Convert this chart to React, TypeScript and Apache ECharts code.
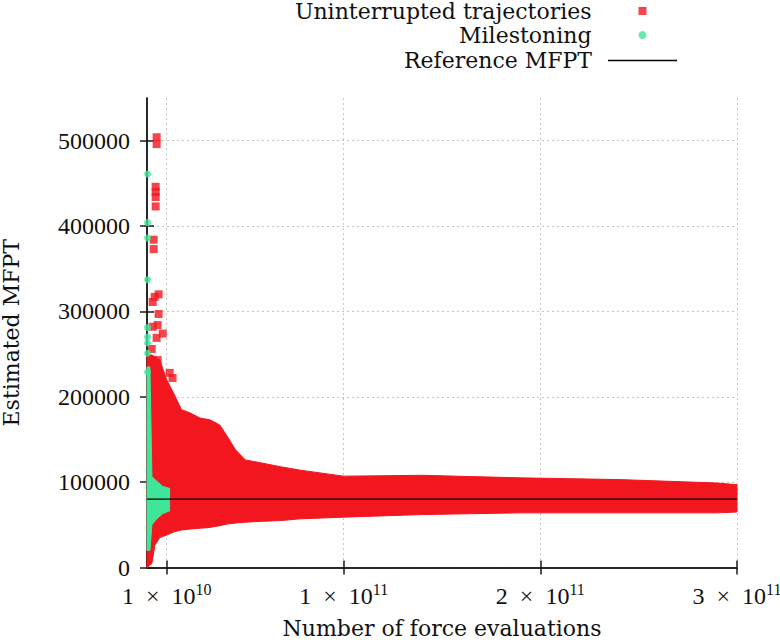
import React, { useEffect, useRef } from 'react';
import * as echarts from 'echarts';

// ---- tick labels ----
const xTickValues = [1e10, 1e11, 2e11, 3e11];
const xTickMantissa = ['1', '1', '2', '3'];
const xTickExponent = ['10', '11', '11', '11'];
const yTickValues = [0, 100000, 200000, 300000, 400000, 500000];

// ---- reference value ----
const referenceMFPT = 80000;

// ---- Uninterrupted trajectories: dense cloud envelope ----
const trajBandX = [0, 0.25e10, 0.4e10, 0.65e10, 1.0e10, 1.4e10, 1.75e10, 2.2e10, 2.7e10, 3.2e10, 3.7e10, 4.1e10, 4.5e10, 5.0e10, 5.7e10, 6.8e10, 7.8e10, 10e10, 14e10, 19e10, 24e10, 29e10, 30e10];
const trajBandUpper = [249000, 249000, 247000, 243000, 220000, 202000, 185000, 181000, 175000, 173000, 167000, 153000, 138000, 126000, 123000, 118000, 114000, 107000, 108000, 105000, 103000, 99000, 97000];
const trajBandLower = [0, 5000, 26000, 35000, 38000, 42000, 44000, 45000, 46000, 47000, 49000, 51000, 52000, 53000, 54000, 55000, 57000, 59000, 62000, 64000, 64000, 64000, 65000];

// ---- Uninterrupted trajectories: isolated estimates ----
const trajOutlierX = [4.9e9, 4.9e9, 4.4e9, 4.4e9, 4.4e9, 4.4e9, 3.4e9, 3.4e9, 3.9e9, 5.9e9, 2.9e9, 5.9e9, 2.9e9, 5.4e9, 8.0e9, 4.9e9, 2.4e9, 5.4e9, 1.15e10, 1.3e10];
const trajOutlierY = [504000, 496000, 446000, 440000, 434000, 423000, 384000, 373000, 317000, 320000, 311000, 297000, 282000, 284000, 274000, 269000, 256000, 243000, 228000, 222000];

// ---- Milestoning: dense envelope ----
const mileBandX = [0, 0.15e10, 0.25e10, 0.5e10, 0.8e10, 1.1e10, 1.15e10];
const mileBandUpper = [235000, 235000, 106000, 101000, 95000, 93000, 93000];
const mileBandLower = [20000, 20000, 50000, 57000, 63000, 66000, 66000];

// ---- Milestoning: isolated estimates ----
const mileOutlierX = [3e8, 3e8, 3e8, 3e8, 3e8, 3e8, 3e8, 3e8, 3e8];
const mileOutlierY = [461000, 404000, 386000, 337000, 281000, 270000, 263000, 251000, 229000];

const RED = '#f2171f';
const GREEN = '#3fe69a';
const AXIS = '#1a1a1a';
const NUM_FONT = 'Liberation Serif';
const TXT_FONT = 'DejaVu Serif';
const EN_SPACE = '\u2002';

function bandSeries(name: string, xs: number[], lo: number[], hi: number[], color: string, z: number) {
  return {
    type: 'custom',
    name,
    z,
    silent: true,
    data: xs.map((x, i) => [x, lo[i], hi[i]]),
    encode: { x: 0, y: [1, 2] },
    renderItem: (params: any, api: any) => {
      if (params.dataIndex !== 0) return null;
      const top = xs.map((x, i) => api.coord([x, hi[i]]));
      const bottom = xs.map((x, i) => api.coord([x, lo[i]])).reverse();
      return {
        type: 'polygon',
        shape: { points: top.concat(bottom) },
        style: { fill: color, stroke: color, lineWidth: 1 },
      };
    },
  };
}

function legendFor(name: string, icon: string, w: number, h: number, right: number, top: number, padRight: number) {
  return {
    show: true,
    data: [{ name, icon }],
    orient: 'vertical',
    align: 'right',
    right,
    top,
    padding: 0,
    itemWidth: w,
    itemHeight: h,
    selectedMode: false,
    textStyle: { fontFamily: TXT_FONT, fontSize: 22, color: '#111', padding: [0, padRight, 0, 0] },
  };
}

const gridLine = { show: true, lineStyle: { color: '#c4c4c4', type: [2, 3], width: 1 } };

export default function App() {
  const ref = useRef<HTMLDivElement>(null);
  useEffect(() => {
    const chart = echarts.init(ref.current!, null, { renderer: 'svg' });
    const option: any = {
      animation: false,
      backgroundColor: '#fff',
      grid: { left: 147, right: 43, top: 98, bottom: 72.5, containLabel: false, outerBoundsMode: 'none' },
      legend: [
        legendFor('Uninterrupted trajectories', 'rect', 8, 8, 133.5, 0, 42),
        legendFor('Milestoning', 'circle', 8, 8, 133.5, 24, 42),
        legendFor('Reference MFPT', 'rect', 69, 1.5, 103, 49.5, 11),
      ],
      xAxis: [
        {
          type: 'value',
          position: 'bottom',
          min: 0,
          max: 3e11,
          axisLine: { show: true, lineStyle: { color: AXIS, width: 1.5 } },
          axisTick: { show: true, inside: true, length: 7, customValues: xTickValues, lineStyle: { color: AXIS, width: 1.5 } },
          axisLabel: {
            show: true,
            customValues: xTickValues,
            margin: 14,
            formatter: (v: number) => {
              const i = xTickValues.findIndex((t) => Math.abs(t - v) < 1);
              if (i < 0) return '';
              return `{n|${xTickMantissa[i]}${EN_SPACE}×${EN_SPACE}10}{s|${xTickExponent[i]}}`;
            },
            rich: {
              n: { fontFamily: NUM_FONT, fontSize: 24, lineHeight: 26, verticalAlign: 'bottom', color: '#111' },
              s: { fontFamily: NUM_FONT, fontSize: 16, lineHeight: 13, verticalAlign: 'top', color: '#111' },
            },
          },
          splitLine: gridLine,
          name: 'Number of force evaluations',
          nameLocation: 'middle',
          nameGap: 50,
          nameTextStyle: { fontFamily: TXT_FONT, fontSize: 22, color: '#111' },
        },
        {
          type: 'value',
          position: 'top',
          min: 0,
          max: 3e11,
          axisLine: { show: true, lineStyle: { color: AXIS, width: 1.5 } },
          axisTick: { show: true, inside: true, length: 7, customValues: xTickValues, lineStyle: { color: AXIS, width: 1.5 } },
          axisLabel: { show: false },
          splitLine: { show: false },
        },
      ],
      yAxis: [
        {
          type: 'value',
          position: 'left',
          min: 0,
          max: 550000,
          axisLine: { show: true, lineStyle: { color: AXIS, width: 1.5 } },
          axisTick: { show: true, inside: true, length: 7, customValues: yTickValues, lineStyle: { color: AXIS, width: 1.5 } },
          axisLabel: {
            show: true,
            customValues: yTickValues,
            margin: 17,
            formatter: (v: number) => String(Math.round(v)),
            fontFamily: NUM_FONT,
            fontSize: 24,
            color: '#111',
          },
          splitLine: gridLine,
          name: 'Estimated MFPT',
          nameLocation: 'middle',
          nameGap: 125,
          nameTextStyle: { fontFamily: TXT_FONT, fontSize: 22, color: '#111' },
        },
        {
          type: 'value',
          position: 'right',
          min: 0,
          max: 550000,
          axisLine: { show: true, lineStyle: { color: AXIS, width: 1.5 } },
          axisTick: { show: true, inside: true, length: 7, customValues: yTickValues, lineStyle: { color: AXIS, width: 1.5 } },
          axisLabel: { show: false },
          splitLine: { show: false },
        },
      ],
      series: [
        {
          type: 'scatter',
          name: 'Uninterrupted trajectories',
          symbol: 'rect',
          symbolSize: 8,
          z: 3,
          itemStyle: { color: RED },
          data: trajOutlierX.map((x, i) => [x, trajOutlierY[i]]),
        },
        bandSeries('Uninterrupted trajectories', trajBandX, trajBandLower, trajBandUpper, RED, 2),
        {
          type: 'scatter',
          name: 'Milestoning',
          symbol: 'circle',
          symbolSize: 7,
          z: 5,
          itemStyle: { color: GREEN },
          data: mileOutlierX.map((x, i) => [x, mileOutlierY[i]]),
        },
        bandSeries('Milestoning', mileBandX, mileBandLower, mileBandUpper, GREEN, 4),
        {
          type: 'line',
          name: 'Reference MFPT',
          z: 6,
          symbol: 'none',
          color: '#000',
          itemStyle: { color: '#000' },
          lineStyle: { color: '#000', width: 1.2 },
          data: [[0, referenceMFPT], [3e11, referenceMFPT]],
        },
      ],
    };
    chart.setOption(option);
    return () => chart.dispose();
  }, []);
  return <div ref={ref} style={{ position: 'fixed', left: 0, top: 0, width: 780, height: 640 }} />;
}
